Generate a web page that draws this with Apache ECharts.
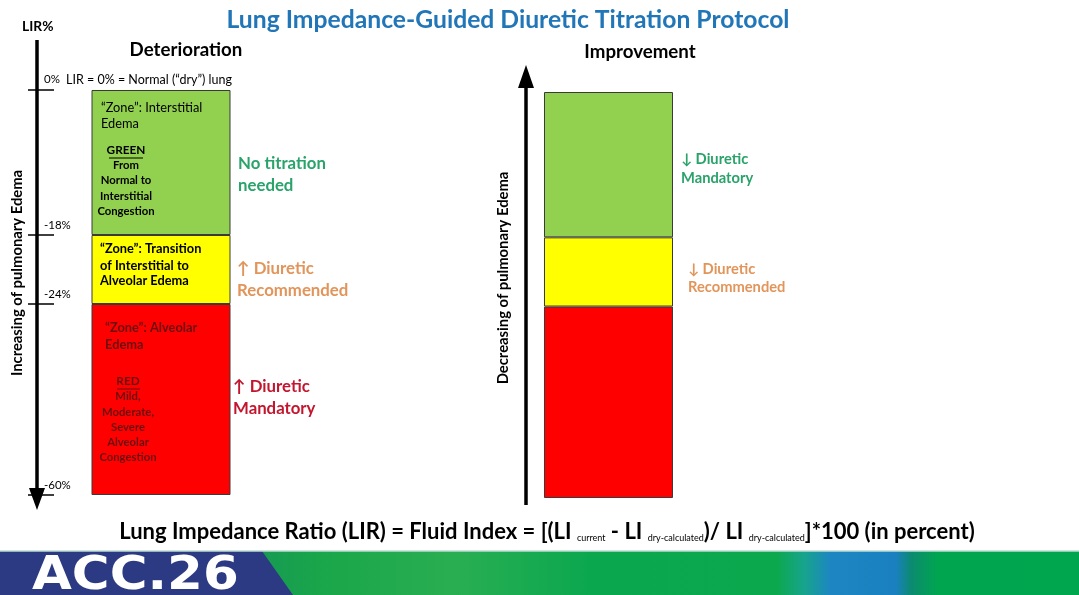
<!DOCTYPE html>
<html><head><meta charset="utf-8">
<script src="https://cdn.jsdelivr.net/npm/echarts@6/dist/echarts.min.js"></script>
<style>html,body{margin:0;padding:0;background:#fff}#c{width:1079px;height:595px}</style>
</head><body><div id="c"></div>
<script>
// ---- data ----
const panels = ['Deterioration', 'Improvement'];
const zoneNames = ['Green', 'Yellow', 'Red'];
// drawn depth of each zone on the protocol scale
const zoneBand = [145, 69, 191];
const lirTickLabels = ['0%', '-18%', '-24%', '-60%'];
const dryNote = 'LIR = 0% = Normal (\u201cdry\u201d) lung';
const zoneColors = ['#92d050', '#ffff00', '#ff0000'];

const bounds = [0];
zoneBand.forEach(v => bounds.push(bounds[bounds.length - 1] + v));
const total = bounds[bounds.length - 1];

const FF = 'Lato, "Open Sans", "Liberation Sans", sans-serif';
function T(x, y, text, o) {
  o = o || {};
  return {
    type: 'text', x: x, y: y, rotation: o.rot || 0, silent: true, z: 100,
    style: {
      text: text, fill: o.color || '#000',
      fontSize: o.size || 12, fontWeight: o.weight || 'bold', fontFamily: o.family || FF,
      align: o.align || 'left', textAlign: o.align || 'left',
      verticalAlign: 'middle', textVerticalAlign: 'middle',
      lineHeight: o.lh, rich: o.rich
    }
  };
}
function L(x1, y1, x2, y2, w, c) {
  return { type: 'line', silent: true, z: 100, shape: { x1, y1, x2, y2 }, style: { stroke: c || '#000', lineWidth: w || 1 } };
}

const series = [];
panels.forEach((p, pi) => {
  zoneNames.forEach((z, zi) => {
    series.push({
      name: p + ' ' + z, type: 'bar', xAxisIndex: pi, yAxisIndex: pi === 0 ? 0 : 2,
      stack: 'panel' + pi, data: [zoneBand[zi]], barWidth: '100%', silent: true,
      itemStyle: { color: zoneColors[zi], borderColor: '#3a3a3a', borderWidth: 1 }
    });
  });
});

const green = '#2aa36b', orange = '#e2955a', crimson = '#c3162e', maroon = '#6a0f10';
const IS = 12.8, BS = 11.3, AS = 16.8, RS = 14.7;
const graphics = [
  T(22, 27, 'LIR%', { size: 13.8 }),
  T(186, 50, panels[0], { size: 18.7, align: 'center' }),
  T(640, 52, panels[1], { size: 18.7, align: 'center' }),
  // left arrow
  L(37, 40, 37, 492, 3.5),
  { type: 'polygon', silent: true, z: 100, shape: { points: [[29, 488], [45, 488], [37, 510]] }, style: { fill: '#000' } },
  // right arrow
  L(526, 505, 526, 84, 3.5),
  { type: 'polygon', silent: true, z: 100, shape: { points: [[518, 88], [534, 88], [526, 65]] }, style: { fill: '#000' } },
  // vertical texts
  T(17, 273, 'Increasing of pulmonary Edema', { size: 14.8, align: 'center', rot: Math.PI / 2 }),
  T(503, 278, 'Decreasing of pulmonary Edema', { size: 14.8, align: 'center', rot: Math.PI / 2 }),
  // green box texts
  T(101, 108, '\u201cZone\u201d: Interstitial', { size: IS, weight: 'normal' }),
  T(101, 124, 'Edema', { size: IS, weight: 'normal' }),
  T(126, 150, 'GREEN', { size: BS + 0.5, align: 'center' }),
  L(109, 158, 143, 158, 1),
  T(126, 165, 'From', { size: BS, align: 'center' }),
  T(126, 180.5, 'Normal to', { size: BS, align: 'center' }),
  T(126, 196, 'Interstitial', { size: BS, align: 'center' }),
  T(126, 211, 'Congestion', { size: BS, align: 'center' }),
  // yellow box texts
  T(100, 249, '\u201cZone\u201d: Transition', { size: IS }),
  T(100, 266, 'of Interstitial to', { size: IS }),
  T(100, 281, 'Alveolar Edema', { size: IS }),
  // red box texts
  T(105, 328, '\u201cZone\u201d: Alveolar', { size: IS, color: maroon }),
  T(105, 345, 'Edema', { size: IS, color: maroon }),
  T(128, 381, 'RED', { size: BS + 0.5, align: 'center', color: maroon }),
  L(117, 389, 140, 389, 1, maroon),
  T(128, 396, 'Mild,', { size: BS, align: 'center', color: maroon }),
  T(128, 412, 'Moderate,', { size: BS, align: 'center', color: maroon }),
  T(128, 427, 'Severe', { size: BS, align: 'center', color: maroon }),
  T(128, 442, 'Alveolar', { size: BS, align: 'center', color: maroon }),
  T(128, 457, 'Congestion', { size: BS, align: 'center', color: maroon }),
  // left annotations
  T(238, 164, 'No titration', { size: AS, color: green }),
  T(238, 186, 'needed', { size: AS, color: green }),
  T(237, 269, '\u2191 Diuretic', { size: AS, color: orange }),
  T(237, 291, 'Recommended', { size: AS, color: orange }),
  T(233, 387, '\u2191 Diuretic', { size: AS, color: crimson }),
  T(233, 409, 'Mandatory', { size: AS, color: crimson }),
  // right annotations
  T(681, 159, '\u2193 Diuretic', { size: RS, color: green }),
  T(681, 178, 'Mandatory', { size: RS, color: green }),
  T(688, 269, '\u2193 Diuretic', { size: RS, color: orange }),
  T(688, 287, 'Recommended', { size: RS, color: orange }),
  // formula
  T(547, 530, '{m|Lung Impedance Ratio (LIR) = Fluid Index = [(LI }{s|current}{m| - LI }{s|dry-calculated}{m|)/ LI }{s|dry-calculated}{m|]*100 (in percent)}', {
    size: 22, align: 'center',
    rich: {
      m: { fontSize: 22, fontWeight: 'bold', fontFamily: FF, fill: '#000', lineHeight: 26, verticalAlign: 'bottom' },
      s: { fontSize: 9, fontWeight: 'normal', fontFamily: FF, fill: '#000', lineHeight: 21, verticalAlign: 'bottom' }
    }
  }),
  // banner
  {
    type: 'rect', silent: true, z: 90, shape: { x: 0, y: 551, width: 1079, height: 44 },
    style: {
      fill: {
        type: 'linear', x: 0, y: 0, x2: 1, y2: 0, colorStops: [
          { offset: 0.24, color: '#179a52' }, { offset: 0.3, color: '#1aa64a' }, { offset: 0.42, color: '#2aae52' },
          { offset: 0.55, color: '#0aa74f' }, { offset: 0.72, color: '#0ca84e' }, { offset: 0.745, color: '#17a48c' },
          { offset: 0.77, color: '#1d86c2' }, { offset: 0.83, color: '#1a80c0' }, { offset: 0.845, color: '#0b8b6e' },
          { offset: 0.87, color: '#00a64f' }, { offset: 1, color: '#00a64e' }
        ]
      }
    }
  },
  L(0, 551, 1079, 551, 1.5, '#bcdcd2'),
  { type: 'polygon', silent: true, z: 95, shape: { points: [[0, 551], [262, 551], [293, 595], [0, 595]] }, style: { fill: '#2b3a82' } },
  { type: 'text', silent: true, z: 101, x: 32, y: 577, scaleX: 1.12, style: { text: 'ACC.26', fill: '#fff', fontSize: 46, fontWeight: 'bold', fontFamily: '"DejaVu Sans", sans-serif', align: 'left', textAlign: 'left', verticalAlign: 'middle', textVerticalAlign: 'middle' } }
];

const chart = echarts.init(document.getElementById('c'), null, { renderer: 'canvas' });
chart.setOption({
  backgroundColor: '#fff',
  animation: false,
  title: {
    text: 'Lung Impedance-Guided Diuretic Titration Protocol', left: 503, top: 3, textAlign: 'center',
    textStyle: { color: '#2176b8', fontSize: 24.7, fontWeight: 'bold', fontFamily: FF }
  },
  grid: [
    { left: 91.5, top: 90, width: 139, height: 405 },
    { left: 544, top: 92, width: 129, height: 406 }
  ],
  xAxis: [
    { gridIndex: 0, type: 'category', data: [panels[0]], show: false },
    { gridIndex: 1, type: 'category', data: [panels[1]], show: false }
  ],
  yAxis: [
    {
      gridIndex: 0, type: 'value', min: 0, max: total, inverse: true, position: 'left', offset: 54.5,
      axisLine: { show: false }, splitLine: { show: false },
      axisTick: { show: true, inside: true, length: 17, customValues: bounds, lineStyle: { color: '#000', width: 1.5 } },
      axisLabel: {
        show: true, inside: true, margin: 7, customValues: bounds,
        formatter: v => {
          const i = bounds.indexOf(v);
          return i === 0 ? '{a|' + lirTickLabels[0] + '}  {b|' + dryNote + '}' : '{a|' + lirTickLabels[i] + '}';
        },
        verticalAlign: 'bottom', padding: [0, 0, 4, 0], color: '#000', fontFamily: FF,
        rich: {
          a: { fontSize: 11.5, color: '#000', fontFamily: FF },
          b: { fontSize: 12.5, color: '#000', fontFamily: FF }
        }
      }
    },
    {
      gridIndex: 0, type: 'value', min: 0, max: total, inverse: true, position: 'left', offset: 54.5,
      axisLine: { show: false }, splitLine: { show: false }, axisLabel: { show: false },
      axisTick: { show: true, inside: false, length: 9, customValues: bounds, lineStyle: { color: '#000', width: 1.5 } }
    },
    { gridIndex: 1, type: 'value', min: 0, max: total, inverse: true, show: false }
  ],
  series: series,
  graphic: graphics
});
</script></body></html>
